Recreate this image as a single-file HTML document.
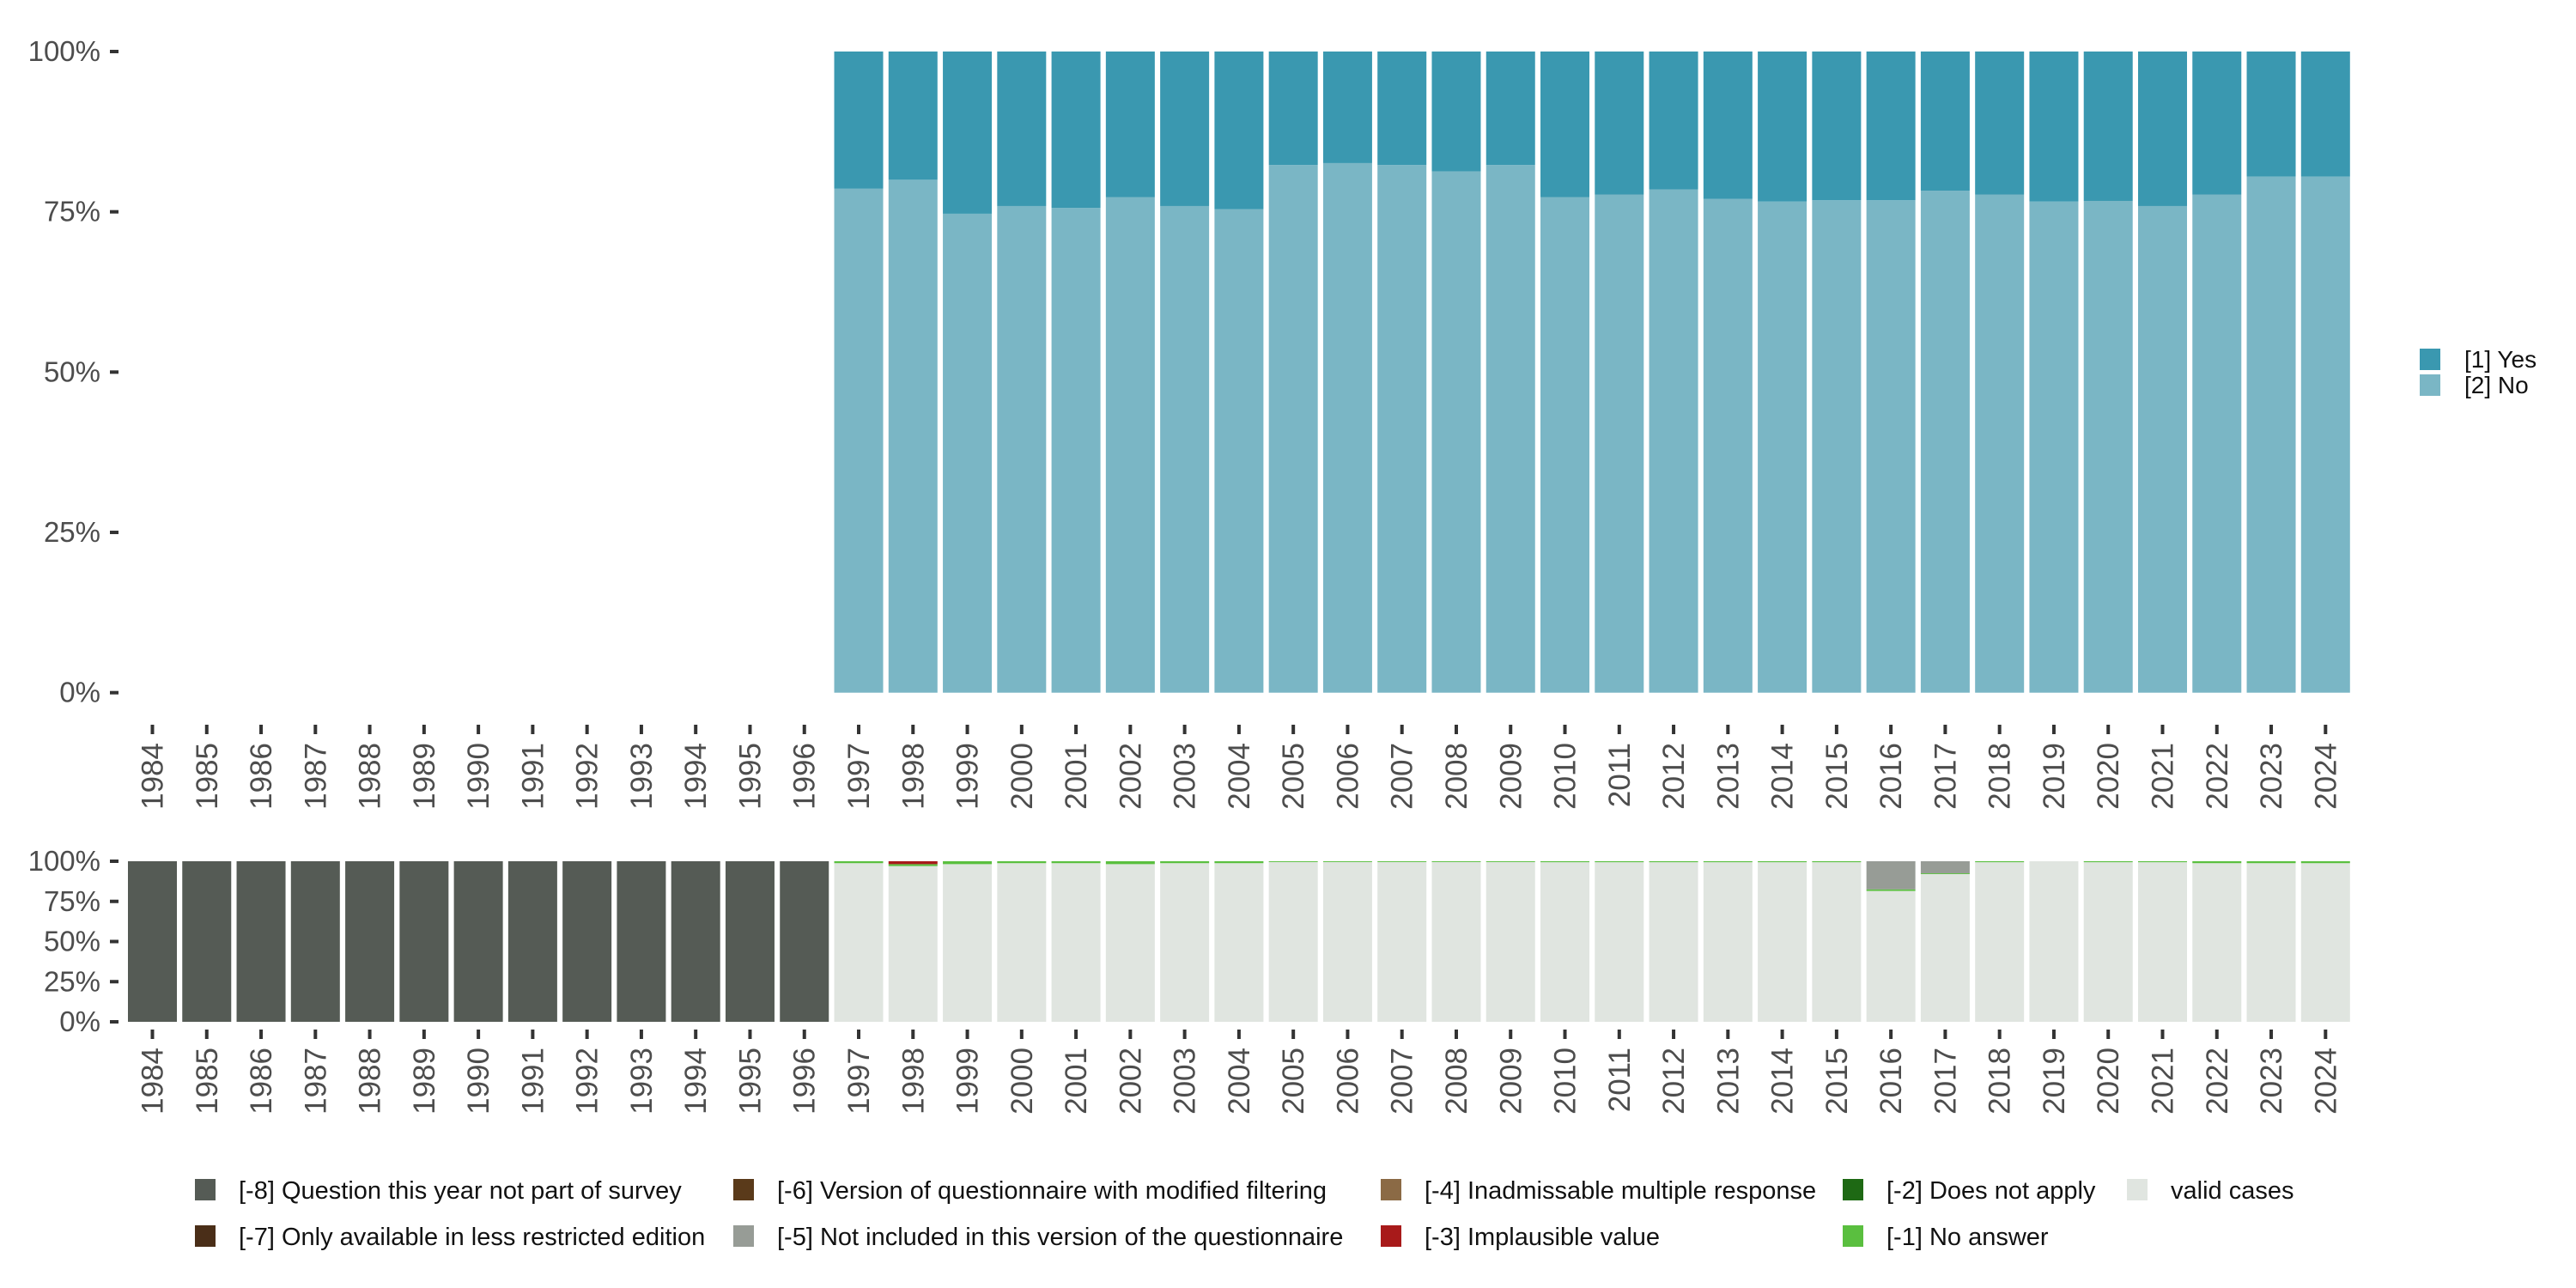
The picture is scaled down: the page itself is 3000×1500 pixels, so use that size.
<!DOCTYPE html>
<html><head><meta charset="utf-8"><style>
html,body{margin:0;padding:0;background:#fff;}
svg{display:block;font-family:"Liberation Sans",sans-serif;}
</style></head><body>
<svg id="chart" width="3000" height="1500" viewBox="0 0 3000 1500" xmlns="http://www.w3.org/2000/svg">
<g id="topPanel"></g>
<g id="botPanel"></g>
<g id="legPanel"></g>
</svg>
<script>
const years = [1984,1985,1986,1987,1988,1989,1990,1991,1992,1993,1994,1995,1996,1997,1998,1999,2000,2001,2002,2003,2004,2005,2006,2007,2008,2009,2010,2011,2012,2013,2014,2015,2016,2017,2018,2019,2020,2021,2022,2023,2024];
// share of "[2] No" among valid answers (null = no data)
const noShare = [null,null,null,null,null,null,null,null,null,null,null,null,null,78.6,80,74.7,75.9,75.6,77.3,75.9,75.4,82.3,82.6,82.3,81.3,82.3,77.3,77.7,78.5,77.0,76.6,76.8,76.8,78.3,77.7,76.6,76.7,75.9,77.7,80.5,80.5];
// missing panel shares
const notInSurvey = [100,100,100,100,100,100,100,100,100,100,100,100,100,0,0,0,0,0,0,0,0,0,0,0,0,0,0,0,0,0,0,0,0,0,0,0,0,0,0,0,0];
const notIncluded = [0,0,0,0,0,0,0,0,0,0,0,0,0,0,0,0,0,0,0,0,0,0,0,0,0,0,0,0,0,0,0,0,17.5,7.5,0,0,0,0,0,0,0];
const implausible = [0,0,0,0,0,0,0,0,0,0,0,0,0,0,1.8,0,0,0,0,0,0,0,0,0,0,0,0,0,0,0,0,0,0,0,0,0,0,0,0,0,0];
const noAnswer = [0,0,0,0,0,0,0,0,0,0,0,0,0,1.2,1.2,1.8,1.2,1.2,1.8,1.2,1.2,0.5,0.5,0.5,0.5,0.5,0.6,0.6,0.6,0.6,0.6,0.6,1.0,0.5,0.6,0,0.6,0.6,1.2,1.2,1.2];
const pctTicks = [0,25,50,75,100];
const pctLabels = ["0%","25%","50%","75%","100%"];

const NS="http://www.w3.org/2000/svg";
function mk(parent,tag,attrs,txt){const e=document.createElementNS(NS,tag);for(const k in attrs)e.setAttribute(k,attrs[k]);if(txt!==undefined)e.textContent=txt;parent.appendChild(e);return e;}
const x0=177.5, step=63.27, bw=57;
function xc(i){return x0+i*step;}
function yTop(v){return 806.7-(v/100)*746.7;}
function yBot(v){return 1190-(v/100)*187;}

const topG=document.getElementById('topPanel'), botG=document.getElementById('botPanel'), legG=document.getElementById('legPanel');
function yAxis(g,yf,name){
  pctTicks.forEach((t,i)=>{
    const tk=mk(g,'rect',{x:128,y:yf(t)-2,width:10,height:4,fill:'#333'});
    
    
    const l=mk(g,'text',{x:117,y:yf(t)+11,'text-anchor':'end','font-size':33,fill:'#4d4d4d'},pctLabels[i]);
    
    
  });
}
function xAxis(g,ty,ly,name){
  years.forEach((yr,i)=>{
    const tk=mk(g,'rect',{x:xc(i)-2,y:ty,width:4,height:11,fill:'#333'});
    
    
    const l=mk(g,'text',{x:0,y:0,'text-anchor':'end','font-size':35,fill:'#4d4d4d',transform:`translate(${xc(i)+12},${ly}) rotate(-90)`},String(yr));
    
    
  });
}
yAxis(topG,yTop,'top-y');
xAxis(topG,844,865,'top-x');
yAxis(botG,yBot,'bottom-y');
xAxis(botG,1199,1220,'bottom-x');

years.forEach((yr,i)=>{
  if(noShare[i]===null) return;
  const n=noShare[i];
  const a=mk(topG,'rect',{x:xc(i)-bw/2,y:yTop(n),width:bw,height:yTop(0)-yTop(n),fill:'#7ab6c5'});
  
  
  const b=mk(topG,'rect',{x:xc(i)-bw/2,y:yTop(100),width:bw,height:yTop(n)-yTop(100),fill:'#3a98b0'});
  
  
});

years.forEach((yr,i)=>{
  const valid=100-notInSurvey[i]-notIncluded[i]-implausible[i]-noAnswer[i];
  const segs=[[valid,'#e0e5e0','valid'],[noAnswer[i],'#5abf3f','no-answer'],[implausible[i],'#a81a1a','implausible'],[notIncluded[i],'#979c96','not-included'],[notInSurvey[i],'#555b55','not-in-survey']];
  let acc=0;
  segs.forEach(s=>{
    if(s[0]<=0){return;}
    const r=mk(botG,'rect',{x:xc(i)-bw/2,y:yBot(acc+s[0]),width:bw,height:yBot(acc)-yBot(acc+s[0]),fill:s[1]});
    
    
    acc+=s[0];
  });
});

[['[1] Yes','#3a98b0',406],['[2] No','#7ab6c5',436]].forEach(e=>{
  const s=mk(legG,'rect',{x:2818,y:e[2],width:24,height:25,fill:e[1]});
  
  
  const t=mk(legG,'text',{x:2870,y:e[2]+22,'font-size':28,fill:'#111'},e[0]);
  
  
});
const items=[
 [227,1373,'#555b55','[-8] Question this year not part of survey'],
 [227,1427,'#4a2e18','[-7] Only available in less restricted edition'],
 [854,1373,'#5a3a1a','[-6] Version of questionnaire with modified filtering'],
 [854,1427,'#979c96','[-5] Not included in this version of the questionnaire'],
 [1608,1373,'#8b6a45','[-4] Inadmissable multiple response'],
 [1608,1427,'#a81a1a','[-3] Implausible value'],
 [2146,1373,'#1e6914','[-2] Does not apply'],
 [2146,1427,'#5abf3f','[-1] No answer'],
 [2477,1373,'#e0e5e0','valid cases']
];
items.forEach(e=>{
  const s=mk(legG,'rect',{x:e[0],y:e[1],width:24,height:25,fill:e[2]});
  
  
  const t=mk(legG,'text',{x:e[0]+51,y:e[1]+23,'font-size':29,fill:'#111'},e[3]);
  
  
});
</script>
</body></html>
